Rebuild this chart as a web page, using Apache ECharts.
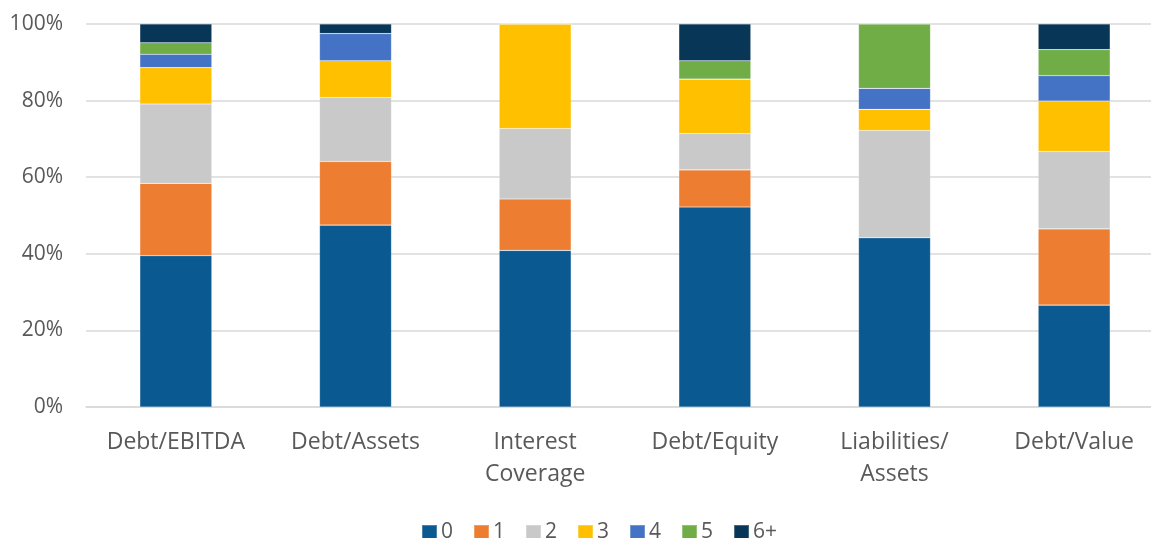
<!DOCTYPE html>
<html>
<head>
<meta charset="utf-8">
<script src="https://cdn.jsdelivr.net/npm/echarts@6/dist/echarts.min.js"></script>
<style>
html,body{margin:0;padding:0;background:#fff;overflow:hidden;width:1151px;height:538px;}
#chart{width:1164px;height:538px;}
</style>
</head>
<body>
<div id="chart"></div>
<script>
const categories = ["Debt/EBITDA", "Debt/Assets", "Interest\nCoverage", "Debt/Equity", "Liabilities/\nAssets", "Debt/Value"];
const seriesNames = ["0", "1", "2", "3", "4", "5", "6+"];
const s0  = [39.5, 47.5, 40.9, 52.2, 44.2, 26.6];
const s1  = [18.9, 16.6, 13.4,  9.7,  0.0, 19.9];
const s2  = [20.7, 16.7, 18.4,  9.5, 28.0, 20.2];
const s3  = [ 9.5,  9.6, 27.3, 14.2,  5.5, 13.2];
const s4  = [ 3.5,  7.1,  0.0,  0.0,  5.5,  6.6];
const s5  = [ 3.0,  0.0,  0.0,  4.8, 16.8,  6.8];
const s6p = [ 4.9,  2.5,  0.0,  9.6,  0.0,  6.7];
const yTicks = [0, 20, 40, 60, 80, 100];

const colors = ["#0A5A91", "#ED7D31", "#C9C9C9", "#FFC000", "#4472C4", "#70AD47", "#073657"];
const allData = [s0, s1, s2, s3, s4, s5, s6p];
const font = "'Open Sans', 'Noto Sans', sans-serif";
const textColor = "#595959";

const chart = echarts.init(document.getElementById('chart'), null, {renderer: 'canvas'});
chart.setOption({
  animation: false,
  backgroundColor: '#ffffff',
  textStyle: {fontFamily: font},
  color: colors,
  grid: {left: 86, top: 24, width: 1078, height: 383, containLabel: false},
  legend: {
    top: 522,
    left: 421,
    itemWidth: 15,
    itemHeight: 15,
    itemGap: 20,
    icon: 'rect',
    padding: 0,
    textStyle: {fontFamily: font, fontSize: 21, color: textColor, padding: [0, 0, 0, -1]},
    data: seriesNames
  },
  xAxis: {
    type: 'category',
    data: categories,
    axisLine: {show: true, lineStyle: {color: '#D9D9D9', width: 1.5}},
    axisTick: {show: false},
    axisLabel: {
      fontFamily: font, fontSize: 23, color: textColor, margin: 19, lineHeight: 32, interval: 0
    }
  },
  yAxis: {
    type: 'value',
    min: yTicks[0],
    max: yTicks[yTicks.length - 1],
    interval: 20,
    axisLine: {show: false},
    axisTick: {show: false},
    splitLine: {lineStyle: {color: '#D9D9D9', width: 1.5}},
    axisLabel: {
      fontFamily: font, fontSize: 21, color: textColor, margin: 23,
      formatter: v => v + '%'
    }
  },
  series: seriesNames.map((name, i) => ({
    name: name,
    type: 'bar',
    stack: 'total',
    barWidth: 72,
    data: allData[i],
    itemStyle: {color: colors[i], borderColor: 'rgba(255,255,255,0.25)', borderWidth: 0.6}
  }))
});
</script>
</body>
</html>
